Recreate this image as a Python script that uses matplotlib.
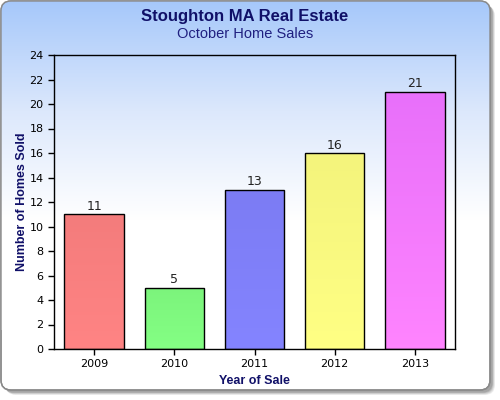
import numpy as np
import matplotlib
matplotlib.use("Agg")
import matplotlib.pyplot as plt
from matplotlib.patches import FancyBboxPatch
from matplotlib.colors import LinearSegmentedColormap

years = ["2009", "2010", "2011", "2012", "2013"]
sales = [11, 5, 13, 16, 21]
colors_top = ["#f47c7c", "#7cf47c", "#7c7cf4", "#f4f47c", "#e870fa"]
colors_bot = ["#ff8484", "#84ff84", "#8484ff", "#ffff84", "#ff84ff"]
title = "Stoughton MA Real Estate"
subtitle = "October Home Sales"
xlabel = "Year of Sale"
ylabel = "Number of Homes Sold"
yticks = list(range(0, 25, 2))

navy = "#101068"
fig = plt.figure(figsize=(5, 4), dpi=100)
fig.patch.set_facecolor("white")

# background axis for frame + gradient
bg = fig.add_axes([0, 0, 1, 1], zorder=-10)
bg.axis("off")
for i, a in enumerate([0.10, 0.12, 0.15, 0.2, 0.3]):
    off = 5 - i * 0.6
    sh = FancyBboxPatch((1 + off, 1 + off), 489, 389,
                        boxstyle="round,pad=0,rounding_size=10",
                        fc="#707070", ec="none", alpha=a, zorder=0.1)
    bg.add_patch(sh)
frame = FancyBboxPatch((1, 1), 489, 389, boxstyle="round,pad=0,rounding_size=10",
                       fc="white", ec="#8a8a8a", lw=1.0, zorder=0.5)
bg.add_patch(frame)
grad = np.linspace(0, 1, 256).reshape(-1, 1)
cmap = LinearSegmentedColormap.from_list("bgc", ["#a6c8fa", "#dce8fc", "#ffffff", "#ffffff"])
im = bg.imshow(grad, cmap=cmap, extent=[1, 490, 330, 1], aspect="auto", zorder=1)
im.set_clip_path(frame)
edge = FancyBboxPatch((1, 1), 489, 389, boxstyle="round,pad=0,rounding_size=10",
                      fc="none", ec="#8a8a8a", lw=1.0, zorder=2)
bg.add_patch(edge)
bg.set_xlim(0, 500)
bg.set_ylim(400, 0)

ax = fig.add_axes([54 / 500, 1 - 349 / 400, (455 - 54) / 500, (349 - 55) / 400])
ax.patch.set_alpha(0)
x = np.arange(len(years))
bars = ax.bar(x, sales, width=0.74, color="none", edgecolor="black", linewidth=1.0, zorder=3)
for b, ct, cb in zip(bars, colors_top, colors_bot):
    cm = LinearSegmentedColormap.from_list("b", [ct, cb])
    bx, by = b.get_x(), b.get_y()
    w, h = b.get_width(), b.get_height()
    gi = ax.imshow(np.linspace(0, 1, 64).reshape(-1, 1), cmap=cm, aspect="auto",
                   extent=[bx, bx + w, by, by + h], origin="upper", zorder=2)
    gi.set_clip_path(b)
for xi, v in zip(x, sales):
    ax.text(xi, v + 0.12, str(v), ha="center", va="bottom", fontsize=9, color="#222222")

ax.set_xlim(-0.5, len(years) - 0.5)
ax.set_ylim(0, 24)
ax.set_yticks(yticks)
ax.set_xticks(x)
ax.set_xticklabels(years)
ax.tick_params(axis="both", labelsize=8, length=4, width=1, color="black", direction="out")
for s in ax.spines.values():
    s.set_linewidth(1.0)
    s.set_color("black")
ax.set_xlabel(xlabel, fontsize=9, fontweight="bold", color=navy, family="Liberation Sans", labelpad=4)
ax.set_ylabel(ylabel, fontsize=9, fontweight="bold", color=navy, family="Liberation Sans")
ax.yaxis.set_label_coords(-(54 - 28) / 401, 0.5)

fig.text(245 / 500, 1 - 17 / 400, title, ha="center", va="center", fontsize=12,
         fontweight="bold", color=navy, family="Liberation Sans")
fig.text(245 / 500, 1 - 34 / 400, subtitle, ha="center", va="center", fontsize=10.5,
         color="#202080", family="Liberation Sans")

fig.savefig("out.png", dpi=100)
